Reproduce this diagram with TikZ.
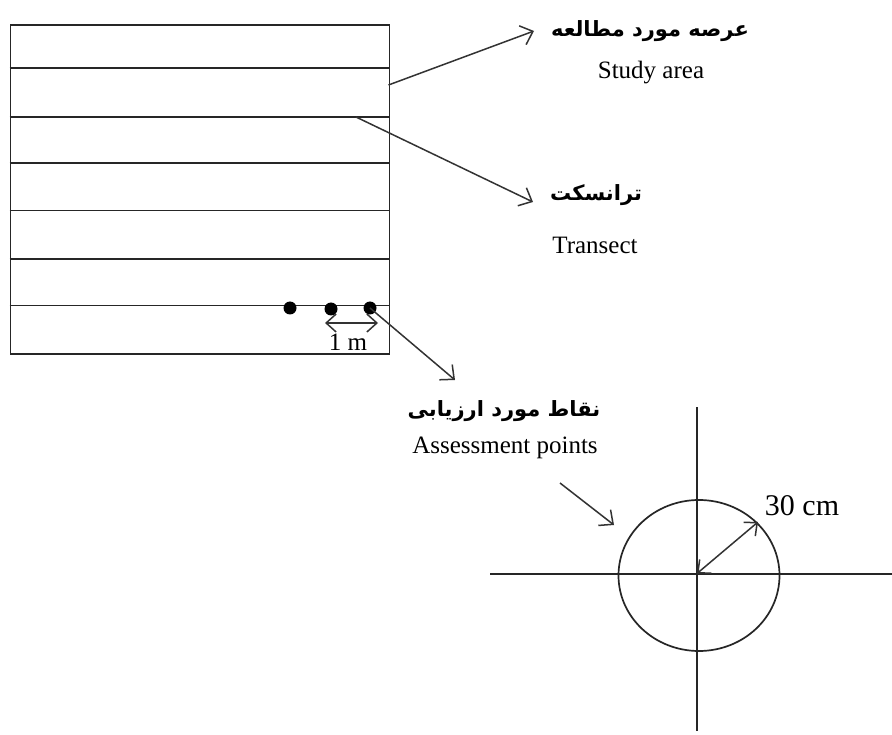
\documentclass[tikz,border=0pt]{standalone}
\usepackage{fontspec}
\setmainfont{Liberation Serif}
\newfontfamily\arabicfont[Script=Arabic]{DejaVu Sans}
\TeXXeTstate=1
\usetikzlibrary{arrows.meta,shapes.geometric}
\tikzset{
  ln/.style={line width=1.7pt, draw=black!85},
  conn/.style={line width=1.5pt, draw=black!80, -{Straight Barb[length=11pt,width=20pt,line width=1.5pt]}},
  dconn/.style={line width=1.5pt, draw=black!80, {Straight Barb[length=10pt,width=18pt,line width=1.5pt]}-{Straight Barb[length=10pt,width=18pt,line width=1.5pt]}},
  lat/.style={font=\fontsize{25}{28}\selectfont, inner sep=0pt},
  fa/.style={font=\arabicfont\bfseries\fontsize{21}{26}\selectfont, inner sep=0pt},
  dotst/.style={circle, fill=black, inner sep=0pt, minimum width=12pt, minimum height=13pt}
}
\begin{document}
\begin{tikzpicture}[x=1pt,y=-1pt]
\useasboundingbox[fill=white] (0,0) rectangle (892,735);
% study area
\node[ln, draw, rectangle, minimum width=379pt, minimum height=328.5pt, inner sep=0pt, anchor=north west] (area) at (9.5,24.5) {};
\foreach \yy/\nm in {68/t1,117/t2,163/t3,210.5/t4,259/t5,305.5/t6}{
  \coordinate (\nm L) at (9.5,\yy);
  \coordinate (\nm R) at (388.5,\yy);
  \draw[ln] (\nm L) -- (\nm R);
}
% dots
\node[dotst] (d1) at (290,308) {};
\node[dotst] (d2) at (331,309) {};
\node[dotst] (d3) at (370,308) {};
\coordinate (m1) at (325,323);
\coordinate (m2) at (378,323);
\draw[dconn] (m1) -- (m2);
\node[lat] (onem) at (348,342) {1 m};
% labels
\node[fa] (faarea) at (650,31) {\beginR عرصه مورد مطالعه\endR};
\node[lat] (enarea) at (651,73) {Study area};
\node[fa] (fatrans) at (596,195) {\beginR ترانسکت\endR};
\node[lat] (entrans) at (595,245) {Transect};
\node[fa] (fapts) at (504,411) {\beginR نقاط مورد ارزیابی\endR};
\node[lat] (enpts) at (505,448) {Assessment points};
% connectors
\coordinate (sa0) at (388.5,85);
\coordinate (sa1) at (534,31);
\draw[conn] (sa0) -- (sa1);
\coordinate (tr0) at (356,117);
\coordinate (tr1) at (533,202);
\draw[conn] (tr0) -- (tr1);
\coordinate (ap1) at (455,380);
\draw[conn] (d3.center) -- (ap1);
\coordinate (cp0) at (560,483);
\coordinate (cp1) at (614,525);
\draw[conn] (cp0) -- (cp1);
% plot circle
\coordinate (c) at (697,573.5);
\coordinate (vtop) at (697,407);
\coordinate (vbot) at (697,731);
\coordinate (hl) at (490,574);
\coordinate (hr) at (892,574);
\draw[ln] (vtop) -- (vbot);
\draw[ln] (hl) -- (hr);
\node[ln, draw, ellipse, minimum width=161pt, minimum height=151pt, inner sep=0pt] (plot) at (699,575.5) {};
\coordinate (rad) at (758,522);
\draw[dconn] (c) -- (rad);
\node[font=\fontsize{30}{34}\selectfont, inner sep=0pt] (rlab) at (802,506) {30 cm};
\end{tikzpicture}
\end{document}
